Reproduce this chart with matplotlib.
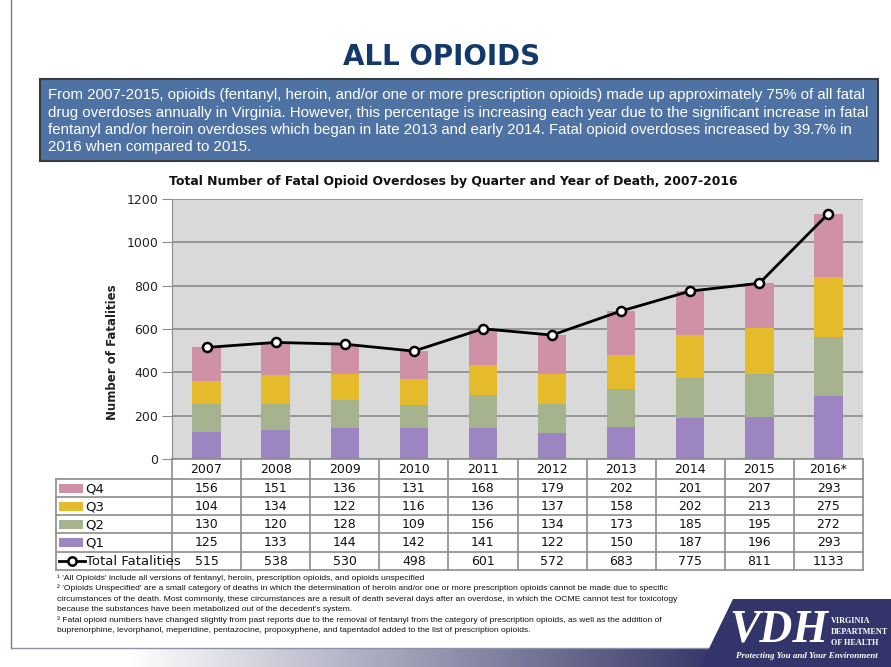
import matplotlib
matplotlib.use("Agg")
import matplotlib.pyplot as plt
import numpy as np
from matplotlib.patches import Rectangle, Polygon

# ---------------- data ----------------
years = ['2007', '2008', '2009', '2010', '2011', '2012', '2013', '2014', '2015', '2016*']
q1 = [125, 133, 144, 142, 141, 122, 150, 187, 196, 293]
q2 = [130, 120, 128, 109, 156, 134, 173, 185, 195, 272]
q3 = [104, 134, 122, 116, 136, 137, 158, 202, 213, 275]
q4 = [156, 151, 136, 131, 168, 179, 202, 201, 207, 293]
total = [515, 538, 530, 498, 601, 572, 683, 775, 811, 1133]
yticks = [0, 200, 400, 600, 800, 1000, 1200]

title = "ALL OPIOIDS"
box_lines = [
    "From 2007-2015, opioids (fentanyl, heroin, and/or one or more prescription opioids) made up approximately 75% of all fatal",
    "drug overdoses annually in Virginia. However, this percentage is increasing each year due to the significant increase in fatal",
    "fentanyl and/or heroin overdoses which began in late 2013 and early 2014. Fatal opioid overdoses increased by 39.7% in",
    "2016 when compared to 2015.",
]
chart_title = "Total Number of Fatal Opioid Overdoses by Quarter and Year of Death, 2007-2016"
ylabel = "Number of Fatalities"
footnotes = [
    "\u00b9 'All Opioids' include all versions of fentanyl, heroin, prescription opioids, and opioids unspecified",
    "\u00b2 'Opioids Unspecified' are a small category of deaths in which the determination of heroin and/or one or more prescription opioids cannot be made due to specific",
    "circumstances of the death. Most commonly, these circumstances are a result of death several days after an overdose, in which the OCME cannot test for toxicology",
    "because the substances have been metabolized out of the decedent's system.",
    "\u00b3 Fatal opioid numbers have changed slightly from past reports due to the removal of fentanyl from the category of prescription opioids, as well as the addition of",
    "buprenorphine, levorphanol, meperidine, pentazocine, propoxyphene, and tapentadol added to the list of prescription opioids.",
]
logo_lines = ["VIRGINIA", "DEPARTMENT", "OF HEALTH"]

series = [("Q4", q4, "#CF91A5"), ("Q3", q3, "#E5BA2B"), ("Q2", q2, "#A5B38F"), ("Q1", q1, "#9C85C1")]

# ---------------- figure ----------------
W, H = 891, 667
fig = plt.figure(figsize=(W / 100, H / 100), dpi=100)
fig.patch.set_facecolor("white")
r = fig.canvas.get_renderer()

def fit_width(t, w):
    ext = t.get_window_extent(renderer=r)
    t.set_fontsize(t.get_fontsize() * w / ext.width)

bg = fig.add_axes([0, 0, 1, 1])
bg.set_xlim(0, W)
bg.set_ylim(H, 0)
bg.axis("off")
bg.set_zorder(0)

# left page border line
bg.plot([11, 11], [0, 648], color="#7a7a7a", lw=1)

# main title
t = bg.text(442, 57, title, ha="center", va="center", fontsize=20, fontweight="bold",
            color="#13396B", family="DejaVu Sans")
fit_width(t, 197)

# blue box
bg.add_patch(Rectangle((40, 79), 838, 82, facecolor="#4E72A3", edgecolor="#3a3a3a", lw=1.5))
ys_box = [95, 112.5, 130, 147.5]
t0 = bg.text(48, ys_box[0], box_lines[0], ha="left", va="center", color="white",
             fontsize=10, family="Liberation Sans")
fit_width(t0, 822)
fs_box = t0.get_fontsize()
for line, yy in zip(box_lines[1:], ys_box[1:]):
    bg.text(48, yy, line, ha="left", va="center", color="white", fontsize=fs_box,
            family="Liberation Sans")

# chart title
t = bg.text(453, 181, chart_title, ha="center", va="center", fontsize=10, fontweight="bold",
            color="#111111", family="DejaVu Sans")
fit_width(t, 570)

# y label
bg.text(112, 352, ylabel, ha="center", va="center", rotation=90, fontsize=8.5,
        fontweight="bold", color="#222222", family="DejaVu Sans")

# ---------------- chart axes ----------------
L, R, T, B = 172, 863, 199, 459
ax = fig.add_axes([L / W, (H - B) / H, (R - L) / W, (B - T) / H])
ax.set_zorder(2)
ax.set_facecolor("#D9D9D9")
x = np.arange(len(years))
bottom = np.zeros(len(years))
for name, vals, col in series[::-1]:
    ax.bar(x, vals, width=0.41, bottom=bottom, color=col, zorder=2, linewidth=0)
    bottom += np.array(vals)
ax.plot(x, total, color="black", lw=2, marker="o", ms=6.5, mfc="white", mec="black",
        mew=1.8, zorder=4)
ax.set_xlim(-0.5, len(years) - 0.5)
ax.set_ylim(0, 1200)
ax.set_yticks(yticks)
ax.set_yticklabels([str(v) for v in yticks], fontsize=9, color="#222222")
ax.set_xticks([])
ax.yaxis.grid(True, color="#8C8C8C", lw=1.2, zorder=1)
ax.set_axisbelow(True)
for s in ["top", "right", "bottom"]:
    ax.spines[s].set_visible(False)
ax.spines["left"].set_color("#8C8C8C")
ax.tick_params(axis="y", length=7, color="#8C8C8C", pad=3)

# ---------------- table axes ----------------
TL, TT, TB = 56, 459, 570
unit = (R - L) / len(years)
tax = fig.add_axes([TL / W, (H - TB) / H, (R - TL) / W, (TB - TT) / H])
tax.set_zorder(3)
tax.set_xlim(-0.5 - (L - TL) / unit, len(years) - 0.5)
tax.set_ylim(TB, TT)
tax.axis("off")
xl = -0.5 - (L - TL) / unit
rows = [459, 479, 497, 515, 533, 551.5, 570]
gc = "#8C8C8C"
for i, yy in enumerate(rows):
    x0 = -0.5 if i == 0 else xl
    tax.plot([x0, len(years) - 0.5], [yy, yy], color=gc, lw=1.2, clip_on=False)
for k in range(len(years) + 1):
    tax.plot([k - 0.5, k - 0.5], [rows[0], rows[-1]], color=gc, lw=1.2, clip_on=False)
tax.plot([xl, xl], [rows[1], rows[-1]], color=gc, lw=1.2, clip_on=False)

def rc(i):
    return (rows[i] + rows[i + 1]) / 2

for j, yr in enumerate(years):
    tax.text(j, rc(0) + 0.5, yr, ha="center", va="center", fontsize=9, color="#111111")
for i, (name, vals, col) in enumerate(series, start=1):
    for j, v in enumerate(vals):
        tax.text(j, rc(i) + 0.5, str(v), ha="center", va="center", fontsize=9, color="#111111")
    tax.add_patch(Rectangle((xl + 3 / unit, rc(i) - 4.5), 24 / unit, 9, facecolor=col,
                            edgecolor="none"))
    tax.text(xl + 29 / unit, rc(i) + 0.5, name, ha="left", va="center", fontsize=9.5,
             color="#111111")
for j, v in enumerate(total):
    tax.text(j, rc(5) + 0.5, str(v), ha="center", va="center", fontsize=9, color="#111111")
tax.plot([xl + 3 / unit, xl + 29 / unit], [rc(5), rc(5)], color="black", lw=2, clip_on=False)
tax.plot([xl + 16 / unit], [rc(5)], marker="o", ms=6, mfc="white", mec="black", mew=1.8,
         clip_on=False)
tax.text(xl + 30 / unit, rc(5) + 0.5, "Total Fatalities", ha="left", va="center", fontsize=9.5,
         color="#111111")

# ---------------- footnotes ----------------
fy = [578, 588.6, 599.2, 609.8, 620.4, 631]
tf = bg.text(57, fy[2], footnotes[2], ha="left", va="center", fontsize=6, color="#111111",
             family="Liberation Sans")
fit_width(tf, 625)
fs_f = tf.get_fontsize()
for i, (line, yy) in enumerate(zip(footnotes, fy)):
    if i == 2:
        continue
    bg.text(57, yy, line, ha="left", va="center", fontsize=fs_f, color="#111111",
            family="Liberation Sans")

# ---------------- bottom band & logo ----------------
bg.plot([11, 720], [648, 648], color="#9090a8", lw=1)
grad = np.linspace(0, 1, 256)[None, :]
c0 = np.array([1.0, 1.0, 1.0])
c1 = np.array([0x2F, 0x30, 0x63]) / 255
img = c0[None, None, :] * (1 - grad[..., None]) + c1[None, None, :] * grad[..., None]
img = np.clip(img, 0, 1)
bg.imshow(img, extent=(130, 735, 667, 649), aspect="auto", zorder=1)
bg.set_xlim(0, W)
bg.set_ylim(H, 0)
bg.add_patch(Polygon([(733, 599), (891, 599), (891, 667), (700, 667)], closed=True,
                     facecolor="#33346A", edgecolor="none", zorder=2))
tv = bg.text(729, 631, "VDH", ha="left", va="center", fontsize=26, style="italic",
             fontweight="bold", color="white", family="Liberation Serif", zorder=3)
fit_width(tv, 99)
td = bg.text(831, 632, logo_lines[1], ha="left", va="center", fontsize=7, fontweight="bold",
             color="white", family="Liberation Serif", zorder=3)
fit_width(td, 57)
fs_l = td.get_fontsize()
for s, yy in zip([logo_lines[0], logo_lines[2]], [621, 643]):
    bg.text(831, yy, s, ha="left", va="center", fontsize=fs_l, fontweight="bold",
            color="white", family="Liberation Serif", zorder=3)
tp = bg.text(736, 656, "Protecting You and Your Environment", ha="left", va="center",
             fontsize=6, style="italic", fontweight="bold", color="white",
             family="Liberation Serif", zorder=3)
fit_width(tp, 144)

fig.savefig("out.png", dpi=100, facecolor="white")
